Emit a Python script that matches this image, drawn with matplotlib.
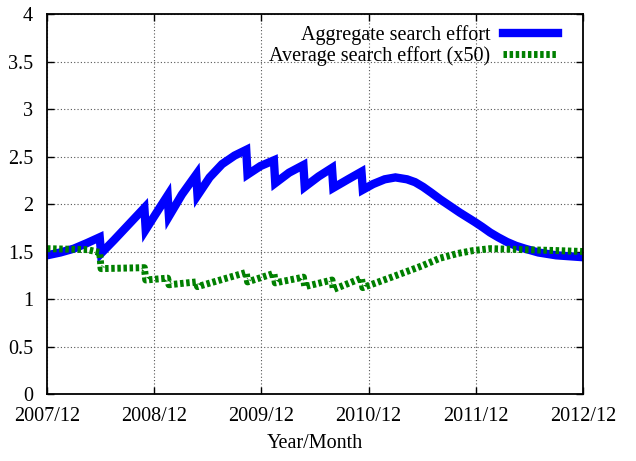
import matplotlib.pyplot as plt

plt.rcParams['font.family'] = ['Liberation Serif', 'DejaVu Serif']
plt.rcParams['font.size'] = 14.5

# months since 2007/12
agg_month = [0, 1.5, 3, 4.5, 5.9, 6.05, 7.5, 9.2, 10.9, 11.05, 12.2, 13.5, 13.65,
             15.1, 16.7, 16.85, 18.2, 19.6, 21.0, 22.3, 22.45, 23.9, 25.4, 25.55,
             27.1, 28.7, 28.85, 30.4, 31.9, 32.05, 33.7, 35.2, 35.35, 36.5, 37.8,
             39.0, 40.3, 41.2, 42.1, 43, 44, 45.1, 46.2, 47.9, 48.7, 49.6, 50.5,
             51.5, 52.5, 53.5, 55, 57, 60]
agg_value = [1.46, 1.49, 1.53, 1.59, 1.65, 1.48, 1.62, 1.79, 1.96, 1.73, 1.90, 2.09, 1.87,
             2.10, 2.31, 2.09, 2.28, 2.42, 2.51, 2.57, 2.31, 2.40, 2.46, 2.22,
             2.33, 2.41, 2.18, 2.29, 2.38, 2.17, 2.26, 2.34, 2.15, 2.21, 2.26,
             2.28, 2.26, 2.23, 2.18, 2.12, 2.05, 1.98, 1.91, 1.81, 1.76, 1.70, 1.65,
             1.60, 1.56, 1.53, 1.49, 1.46, 1.44]

avg_month = [0, 4.5, 5.9, 6.05, 10.9, 11.05, 13.5, 13.65, 16.7, 16.85, 22.3, 22.45,
             25.4, 25.55, 28.7, 28.85, 31.9, 32.05, 35.2, 35.35, 38, 40.3, 42, 44,
             46, 47.7, 49.6, 53.3, 57, 60]
avg_value = [1.53, 1.52, 1.49, 1.32, 1.33, 1.20, 1.22, 1.15, 1.18, 1.13, 1.28, 1.18,
             1.27, 1.17, 1.23, 1.13, 1.20, 1.10, 1.22, 1.12, 1.21, 1.29, 1.35, 1.43,
             1.48, 1.51, 1.53, 1.52, 1.51, 1.50]

tick_months = [0, 12, 24, 36, 48, 60]
tick_labels = ['2007/12', '2008/12', '2009/12', '2010/12', '2011/12', '2012/12']

fig = plt.figure(figsize=(6.36, 4.61), dpi=100)
ax = fig.add_axes([0.0739, 0.1453, 0.8428, 0.8243])

ax.plot(agg_month, agg_value, color='#0000ff', lw=6, solid_joinstyle='miter',
        label='Aggregate search effort')
ax.plot(avg_month, avg_value, color='#008000', lw=5, linestyle=(0, (0.5, 0.38)),
        label='Average search effort (x50)')

ax.set_xlim(0, 60)
ax.set_ylim(0, 4)
ax.set_xticks(tick_months)
ax.set_xticklabels(tick_labels)
ax.set_yticks([0, 0.5, 1, 1.5, 2, 2.5, 3, 3.5, 4])
ax.set_yticklabels(['0', '0.5', '1', '1.5', '2', '2.5', '3', '3.5', '4'])
ax.tick_params(direction='in', top=True, right=True, length=5, width=1)
ax.tick_params(axis='x', pad=9)
ax.tick_params(axis='y', pad=10)
ax.grid(True, color='#555555', linestyle=(0, (1, 2)), lw=0.8)
for s in ax.spines.values():
    s.set_linewidth(1.3)
ax.set_xlabel('Year/Month', labelpad=6)

ax.legend(loc='upper right', frameon=False, markerfirst=False, handlelength=2.7,
          borderaxespad=0, borderpad=0, labelspacing=0.1, handletextpad=0.65,
          bbox_to_anchor=(0.953, 0.972))

fig.savefig('out.png')
